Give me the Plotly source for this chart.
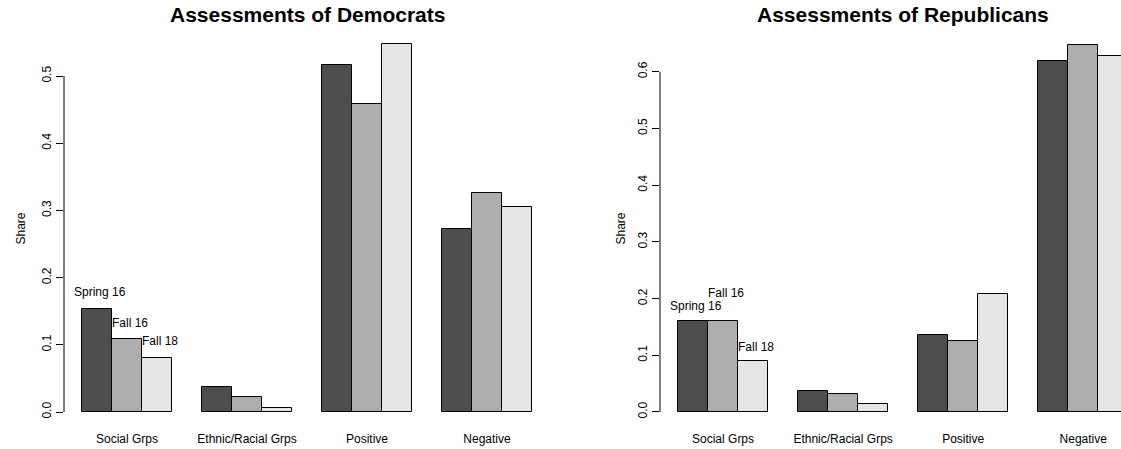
import plotly.graph_objects as go

# Survey shares by wave and assessment category
categories = ["Social Grps", "Ethnic/Racial Grps", "Positive", "Negative"]
waves = ["Spring 16", "Fall 16", "Fall 18"]

dem_spring16 = [0.154, 0.037, 0.516, 0.272]
dem_fall16 = [0.108, 0.022, 0.458, 0.326]
dem_fall18 = [0.081, 0.006, 0.547, 0.305]

rep_spring16 = [0.161, 0.037, 0.135, 0.619]
rep_fall16 = [0.161, 0.031, 0.126, 0.648]
rep_fall18 = [0.090, 0.014, 0.208, 0.628]

wave_colors = ["#4D4D4D", "#AEAEAE", "#E6E6E6"]
FONT = "Liberation Sans, Arial, Helvetica, sans-serif"

W, H = 1121, 449
M_TOP, M_BOT = 30, 22

panels = [
    dict(title="Assessments of Democrats", series=[dem_spring16, dem_fall16, dem_fall18],
         xa="x", ya="y", dom=[64 / W, 550 / W], xr=[0.4, 16.6], yr=[-0.0223, 0.5685],
         ymax=0.5, share_x=20 / W, label_dy=[0.025, 0.025, 0.025]),
    dict(title="Assessments of Republicans", series=[rep_spring16, rep_fall16, rep_fall18],
         xa="x2", ya="y2", dom=[660 / W, 1.0], xr=[0.4, 15.757], yr=[-0.0265, 0.6737],
         ymax=0.6, share_x=620 / W, label_dy=[0.026, 0.048, 0.025]),
]

fig = go.Figure()
annotations = []
shapes = []

n_groups = len(categories)
n_waves = len(waves)
group_step = n_waves + 1  # one bar-width gap between groups
full_span = [0.4, 16.6]   # barplot x extent; the right panel is cut at the page edge

for p in panels:
    for s, (vals, col) in enumerate(zip(p["series"], wave_colors)):
        xs = [1.5 + group_step * g + s for g in range(n_groups)]
        fig.add_trace(go.Bar(
            x=xs, y=vals, width=1.0, name=waves[s],
            marker=dict(color=col, line=dict(color="#000000", width=1)),
            xaxis=p["xa"], yaxis=p["ya"], showlegend=False,
        ))
        # wave label above the first group's bar
        annotations.append(dict(
            x=xs[0] + 0.1, y=vals[0] + p["label_dy"][s], xref=p["xa"], yref=p["ya"],
            text=waves[s], showarrow=False, xanchor="center", yanchor="middle",
            font=dict(family=FONT, size=12, color="#000000"),
        ))

    # panel title, centred on the full plotting region
    annotations.append(dict(
        x=sum(full_span) / 2, xref=p["xa"],
        y=1, yref="paper", yshift=M_TOP - 14,
        text="<b>" + p["title"] + "</b>", showarrow=False,
        xanchor="center", yanchor="middle",
        font=dict(family=FONT, size=21, color="#000000"),
    ))
    # y-axis title
    annotations.append(dict(
        x=p["share_x"], xref="paper", y=0.5, yref=p["ya"] + " domain",
        text="Share", textangle=-90, showarrow=False,
        xanchor="center", yanchor="middle",
        font=dict(family=FONT, size=12, color="#000000"),
    ))
    # axis line spanning only the tick range
    shapes.append(dict(
        type="line", xref=p["xa"] + " domain", yref=p["ya"],
        x0=0, x1=0, y0=0, y1=p["ymax"], line=dict(color="#000000", width=1),
    ))

layout_axes = {}
for i, p in enumerate(panels):
    suffix = "" if i == 0 else "2"
    layout_axes["xaxis" + suffix] = dict(
        domain=p["dom"], range=p["xr"], anchor=p["ya"], automargin=False,
        tickmode="array", tickvals=[2.5 + group_step * g for g in range(n_groups)],
        ticktext=categories, ticks="", showline=False, showgrid=False, zeroline=False,
        tickfont=dict(family=FONT, size=12, color="#000000"), ticklabelstandoff=3,
    )
    ticks = [round(0.1 * k, 1) for k in range(int(round(p["ymax"] * 10)) + 1)]
    layout_axes["yaxis" + suffix] = dict(
        domain=[0, 1], range=p["yr"], anchor=p["xa"], automargin=False,
        tickmode="array", tickvals=ticks, ticktext=[f"{t:.1f}" for t in ticks],
        ticks="outside", ticklen=7, tickcolor="#000000", tickwidth=1,
        tickangle=-90, showline=False, showgrid=False, zeroline=False,
        tickfont=dict(family=FONT, size=12, color="#000000"),
    )

fig.update_layout(
    width=W, height=H,
    margin=dict(l=0, r=0, t=M_TOP, b=M_BOT, autoexpand=False),
    paper_bgcolor="#FFFFFF", plot_bgcolor="#FFFFFF",
    barmode="overlay", bargap=0,
    annotations=annotations, shapes=shapes,
    **layout_axes,
)

fig.write_html("out.html")
